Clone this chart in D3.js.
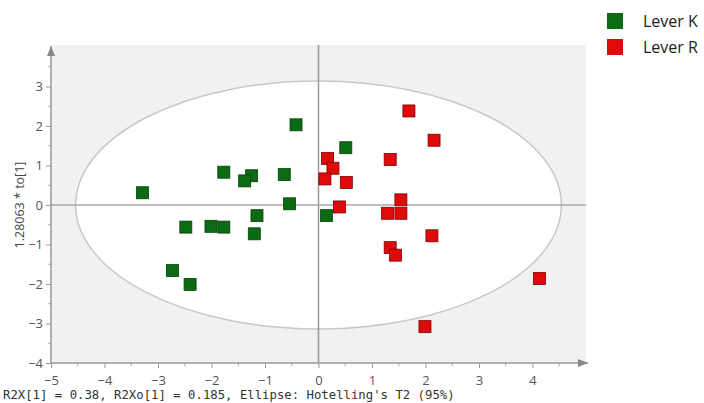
<!DOCTYPE html>
<meta charset="utf-8">
<style>
body { margin: 0; background: #fff; }
svg text { font-family: "Open Sans", "Noto Sans", sans-serif; }
.tick text { font-size: 13px; fill: #555; }
.caption { font-family: "DejaVu Sans Mono", monospace !important; font-size: 12.3px; fill: #333; }
</style>
<svg width="704" height="403"></svg>
<script src="https://cdn.jsdelivr.net/npm/d3@7"></script>
<script>
// group K (green) and group R (red), t[1] vs 1.28063*to[1]
var leverKx = [-0.42, 0.51, -1.77, -1.25, -1.38, -0.64, -3.29, -0.54, -1.15, 0.15, -2.48, -2.01, -1.77, -1.20, -2.73, -2.40];
var leverKy = [2.03, 1.45, 0.83, 0.74, 0.61, 0.77, 0.31, 0.03, -0.27, -0.27, -0.56, -0.54, -0.56, -0.73, -1.66, -2.01];
var leverRx = [1.69, 2.16, 1.34, 0.17, 0.27, 0.12, 0.52, 1.54, 0.39, 1.29, 1.54, 2.12, 1.34, 1.44, 4.13, 1.99];
var leverRy = [2.38, 1.64, 1.15, 1.18, 0.93, 0.66, 0.57, 0.13, -0.05, -0.21, -0.21, -0.78, -1.08, -1.27, -1.86, -3.08];
var xTicks = [-5, -4, -3, -2, -1, 0, 1, 2, 3, 4];
var yTicks = [-4, -3, -2, -1, 0, 1, 2, 3];
var ellipseRx = 4.54, ellipseRy = 3.14; // Hotelling's T2 (95%)
var groups = ["Lever K", "Lever R"];
var colors = ["#0b6b12", "#e10a0a"];

var svg = d3.select("svg");
var x = d3.scaleLinear().domain([-5, 5]).range([51, 586]);
var y = d3.scaleLinear().domain([-4, 4.05]).range([363, 45]);

// plot panel
svg.append("rect")
    .attr("x", x(-5)).attr("y", y(4.05))
    .attr("width", x(5) - x(-5)).attr("height", y(-4) - y(4.05))
    .attr("fill", "#f1f1f1");

svg.append("ellipse")
    .attr("cx", x(0)).attr("cy", y(0))
    .attr("rx", x(ellipseRx) - x(0)).attr("ry", y(0) - y(ellipseRy))
    .attr("fill", "#fff").attr("stroke", "#c8c8c8").attr("stroke-width", 1.5);

// zero lines
svg.append("line").attr("x1", x(-5)).attr("x2", x(5)).attr("y1", y(0)).attr("y2", y(0))
    .attr("stroke", "#aaa").attr("stroke-width", 1.5);
svg.append("line").attr("x1", x(0)).attr("x2", x(0)).attr("y1", y(4.05)).attr("y2", y(-4))
    .attr("stroke", "#999").attr("stroke-width", 1.5);

// axes
var xAxis = svg.append("g").attr("transform", "translate(0," + y(-4) + ")")
    .call(d3.axisBottom(x).tickValues(xTicks).tickSize(5).tickPadding(8).tickFormat(d3.format("d")));
var yAxis = svg.append("g").attr("transform", "translate(" + x(-5) + ",0)")
    .call(d3.axisLeft(y).tickValues(yTicks).tickSize(5).tickPadding(3).tickFormat(d3.format("d")));
[xAxis, yAxis].forEach(function(a) {
  a.select(".domain").remove();
  a.selectAll(".tick line").attr("stroke", "#999");
});

// minor ticks
svg.append("g").selectAll("line").data(d3.range(-4.5, 5, 1)).enter().append("line")
    .attr("x1", function(d) { return x(d); }).attr("x2", function(d) { return x(d); })
    .attr("y1", y(-4)).attr("y2", y(-4) + 3).attr("stroke", "#aaa");
svg.append("g").selectAll("line").data(d3.range(-3.5, 4, 1)).enter().append("line")
    .attr("y1", function(d) { return y(d); }).attr("y2", function(d) { return y(d); })
    .attr("x1", x(-5) - 3).attr("x2", x(-5)).attr("stroke", "#aaa");

// axis lines with arrows
svg.append("defs").append("marker").attr("id", "arrow")
    .attr("viewBox", "0 -5 10 10").attr("refX", 10).attr("refY", 0)
    .attr("markerWidth", 10).attr("markerHeight", 10).attr("markerUnits", "userSpaceOnUse")
    .attr("orient", "auto")
    .append("path").attr("d", "M0,-4L10,0L0,4Z").attr("fill", "#888");
svg.append("line").attr("x1", x(-5)).attr("x2", x(5) + 2).attr("y1", y(-4)).attr("y2", y(-4))
    .attr("stroke", "#999").attr("stroke-width", 1.5).attr("marker-end", "url(#arrow)");
svg.append("line").attr("x1", x(-5)).attr("x2", x(-5)).attr("y1", y(-4)).attr("y2", y(4.05) + 1)
    .attr("stroke", "#999").attr("stroke-width", 1.5).attr("marker-end", "url(#arrow)");

// points
var seriesX = [leverKx, leverRx], seriesY = [leverKy, leverRy];
var s = 12;
groups.forEach(function(g, gi) {
  svg.append("g").selectAll("rect").data(seriesX[gi]).enter().append("rect")
      .attr("x", function(d) { return x(d) - s / 2; })
      .attr("y", function(d, i) { return y(seriesY[gi][i]) - s / 2; })
      .attr("width", s).attr("height", s)
      .attr("fill", colors[gi])
      .attr("stroke", gi === 0 ? "#06400a" : "#7a0000").attr("stroke-width", 0.8);
});

// labels
svg.append("text").attr("transform", "translate(24," + y(0) + ") rotate(-90)")
    .attr("text-anchor", "middle").attr("font-size", 12.5).attr("fill", "#444")
    .text("1.28063 * to[1]");
svg.append("text").attr("class", "caption").attr("x", 3).attr("y", 399)
    .text("R2X[1] = 0.38, R2Xo[1] = 0.185, Ellipse: Hotelling's T2 (95%)");

// legend
var leg = svg.append("g").attr("transform", "translate(607,13)");
groups.forEach(function(g, i) {
  leg.append("rect").attr("x", 0).attr("y", i * 26).attr("width", 16).attr("height", 16)
      .attr("fill", colors[i]);
  leg.append("text").attr("x", 36).attr("y", i * 26 + 14).attr("font-size", 16).attr("fill", "#222")
      .text(g);
});
</script>
